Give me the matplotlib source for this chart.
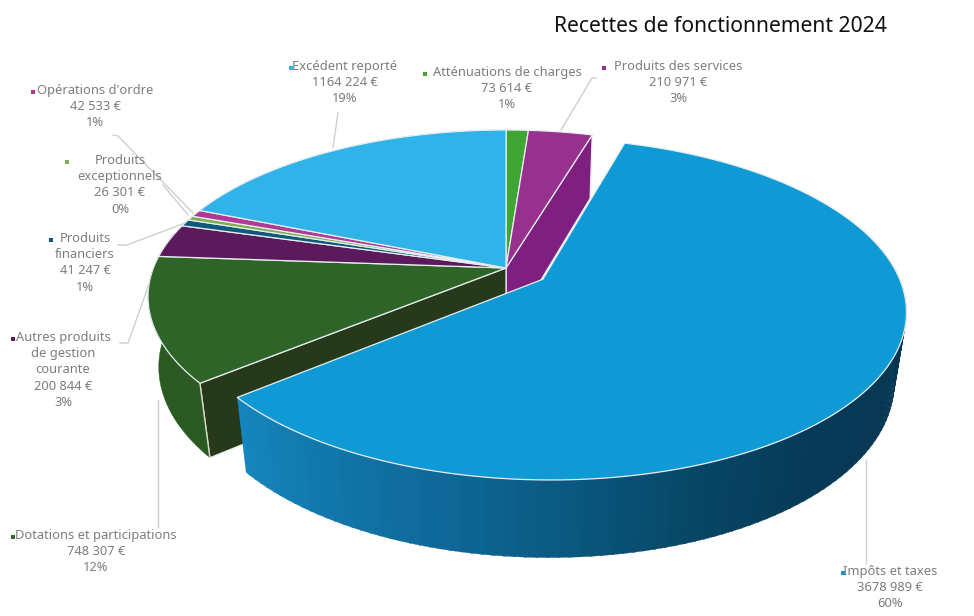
import numpy as np
import matplotlib
matplotlib.use("Agg")
import matplotlib.pyplot as plt

# clockwise from the top of the pie
names = ["Atténuations de charges", "Produits des services", "Impôts et taxes",
         "Dotations et participations", "Autres produits\nde gestion\ncourante",
         "Produits\nfinanciers", "Produits\nexceptionnels", "Opérations d'ordre",
         "Excédent reporté"]
amounts = [73614, 210971, 3678989, 748307, 200844, 41247, 26301, 42533, 1164224]
amount_labels = ["73 614 €", "210 971 €", "3678 989 €", "748 307 €", "200 844 €",
                 "41 247 €", "26 301 €", "42 533 €", "1164 224 €"]
percents = ["1%", "3%", "60%", "12%", "3%", "1%", "0%", "1%", "19%"]
top_colors = ["#3fa535", "#97308f", "#0f9ad6", "#2e6428", "#5a1a5c",
              "#0f5a7a", "#7fae4e", "#b03a96", "#2fb3e8"]

EXPLODED = 2
CX, CY = 506, 268
RX, RY = 352.6, 161.8
PERSP = 0.1725
HEIGHT = 72
EXPLODE = 0.124


def project(u, v, low=False):
    s = 1 / (1 + PERSP * v)
    if low:
        s = 1 / (1 / s + 0.03)
        return CX + RX * u * s, CY - RY * v * s + HEIGHT * s
    return CX + RX * u * s, CY - RY * v * s


def arc(a0, a1, off=(0, 0), low=False, step=1.0):
    n = max(2, int(abs(a1 - a0) / step) + 1)
    ang = np.radians(np.linspace(a0, a1, n))
    x, y = project(off[0] + np.sin(ang), off[1] + np.cos(ang), low)
    return np.column_stack([x, y])


def wall(a, off=(0, 0)):
    # radial cut of a slice, from the centre to the rim
    r = np.radians(a)
    u, v = off[0] + np.sin(r), off[1] + np.cos(r)
    return [project(off[0], off[1]), project(u, v), project(u, v, True),
            project(off[0], off[1], True)]


def shade(a, keys, cols):
    rgb = np.array([matplotlib.colors.to_rgb(c) for c in cols])
    return [np.interp(a, keys, rgb[:, i]) for i in range(3)]


fig = plt.figure(figsize=(9.74, 6.16), dpi=100)
ax = fig.add_axes([0, 0, 1, 1])
ax.set_xlim(0, 974)
ax.set_ylim(616, 0)
ax.axis("off")

edges = np.cumsum([0] + amounts) / sum(amounts) * 360
EDGE = dict(edgecolor="#e8eef0", linewidth=0.9, joinstyle="round")

# leader lines sit under the pie
leaders = [
    [(113, 135), (118, 136), (193, 213)],
    [(163, 185), (188, 215)],
    [(118, 245), (127, 245), (185, 223)],
    [(120, 343), (128, 343), (148, 287), (160, 258)],
    [(158, 400), (158, 527)],
    [(338, 113), (333, 147)],
    [(596, 78), (592, 78), (561, 130)],
    [(866, 460), (866, 563)],
]
for line in leaders:
    xs, ys = zip(*line)
    ax.plot(xs, ys, color="#cfcfcf", lw=1.0, zorder=1)

# rest of the pie: walls, rim, then top faces
a_wall = edges[1 + 1]
a_front = edges[EXPLODED + 1]
ax.fill(*zip(*wall(a_wall)), facecolor="#7f2080", zorder=2, **EDGE)
ax.fill(*zip(*wall(a_front)), facecolor="#26391a", zorder=2, **EDGE)
for i in range(3, 9):
    if edges[i] > 300:
        continue
    top = arc(edges[i], edges[i + 1])
    low = arc(edges[i], edges[i + 1], low=True)
    side = {3: "#2a5a22", 4: "#4a1650"}.get(i, top_colors[i])
    ax.fill(*np.vstack([top, low[::-1]]).T, facecolor=side, edgecolor=side, lw=0.3, zorder=2)
# corner line between rim and wall
cx, cy = zip(project(np.sin(np.radians(a_front)), np.cos(np.radians(a_front))),
             project(np.sin(np.radians(a_front)), np.cos(np.radians(a_front)), True))
ax.plot(cx, cy, color="#d8dcc8", lw=1.0, zorder=3)

for i in range(9):
    if i == EXPLODED:
        continue
    pts = np.vstack([[project(0, 0)], arc(edges[i], edges[i + 1])])
    ax.fill(*pts.T, facecolor=top_colors[i], zorder=4, **EDGE)

# pulled out slice
mid = np.radians((edges[EXPLODED] + edges[EXPLODED + 1]) / 2)
off = (EXPLODE * np.sin(mid), EXPLODE * np.cos(mid))
keys = [95, 140, 160, 190, 231]
cols = ["#06344f", "#073a58", "#074766", "#0e6593", "#1587bf"]
angs = np.arange(edges[EXPLODED], edges[EXPLODED + 1] + 1, 1.5)
angs = angs[angs >= 70]
for a0, a1 in zip(angs[:-1], angs[1:]):
    a1 = min(a1 + 0.3, edges[EXPLODED + 1])
    q = np.vstack([arc(a0, a1, off), arc(a0, a1, off, True)[::-1]])
    c = shade(a0, keys, cols)
    ax.fill(*q.T, facecolor=c, edgecolor=c, lw=0.2, zorder=5)
pts = np.vstack([[project(*off)], arc(edges[EXPLODED], edges[EXPLODED + 1], off)])
ax.fill(*pts.T, facecolor=top_colors[EXPLODED], zorder=6, **EDGE)

# labels: text centre, first line y, bullet x
label_pos = [
    (507, 66, 425), (678, 60, 604), (890, 565, 843), (96, 529, 13),
    (63, 331, 13), (85, 232, 51), (120, 154, 67), (95, 84, 33), (345, 60, 291),
]
for i in range(9):
    x, y, bx = label_pos[i]
    txt = names[i] + "\n" + amount_labels[i] + "\n" + percents[i]
    ax.text(x, y, txt, ha="center", va="top", fontsize=9.3, color="#7d7d7d",
            family="Noto Sans", linespacing=1.32, zorder=8)
    ax.plot([bx], [y + 8], marker="s", ms=2.6, color=top_colors[i], mew=0, zorder=8)

ax.text(554, 26, "Recettes de fonctionnement 2024", ha="left", va="center",
        fontsize=15.2, color="#111111", family="Noto Sans", fontweight="medium")

fig.savefig("out.png", dpi=100)
